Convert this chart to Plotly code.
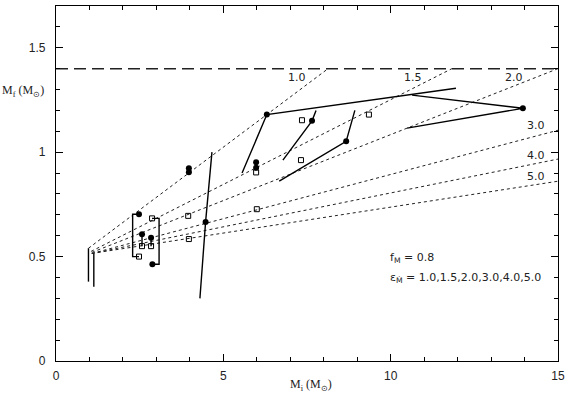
import plotly.graph_objects as go

# ---- data ----
# filled circles
fc_x = [2.48, 2.57, 2.84, 2.88, 3.97, 3.97, 4.47, 5.98, 5.98, 6.30, 7.65, 8.67, 13.95]
fc_y = [0.703, 0.607, 0.590, 0.463, 0.923, 0.904, 0.666, 0.952, 0.925, 1.180, 1.150, 1.052, 1.210]
# open squares
sq_x = [2.48, 2.57, 2.84, 2.87, 3.95, 3.97, 5.98, 6.00, 7.32, 7.35, 9.35]
sq_y = [0.500, 0.550, 0.550, 0.683, 0.695, 0.584, 0.903, 0.727, 0.962, 1.153, 1.180]

# solid tracks (None separates segments)
trk_x = [2.48, 2.29, 2.29, 2.48, None,
         2.87, 3.08, 3.08, 2.88, None,
         2.57, 2.57, None,
         2.84, 2.84, None,
         4.30, 4.47, 4.66, None,
         5.56, 6.30, 11.95, None,
         6.78, 7.65, 7.77, None,
         6.67, 8.67, 8.93, None,
         10.64, 13.95, 10.49, None,
         0.97, 0.97, None,
         1.13, 1.13]
trk_y = [0.703, 0.703, 0.500, 0.500, None,
         0.683, 0.683, 0.463, 0.463, None,
         0.607, 0.550, None,
         0.590, 0.550, None,
         0.300, 0.666, 1.000, None,
         0.900, 1.180, 1.306, None,
         0.962, 1.150, 1.200, None,
         0.861, 1.052, 1.200, None,
         1.273, 1.210, 1.115, None,
         0.540, 0.380, None,
         0.515, 0.355]

# dotted model lines, epsilon = 1.0 ... 5.0
eps_labels = ["1.0", "1.5", "2.0", "3.0", "4.0", "5.0"]
d_x0 = [0.97, 1.05, 1.07, 1.07, 1.07, 1.07]
d_y0 = [0.540, 0.525, 0.520, 0.515, 0.515, 0.515]
d_x1 = [8.13, 11.83, 15.0, 15.0, 15.0, 15.0]
d_y1 = [1.400, 1.400, 1.400, 1.105, 0.967, 0.861]
lab_x = [7.20, 10.67, 13.68, 14.34, 14.34, 14.34]
lab_y = [1.359, 1.359, 1.359, 1.129, 0.986, 0.885]

chandra_x = [0, 15]
chandra_y = [1.4, 1.4]

x_ticks = [0, 5, 10, 15]
y_ticks = [0, 0.5, 1, 1.5]
y_ticklabels = ["0", "0.5", "1", "1.5"]

fig = go.Figure()

# Chandrasekhar limit
fig.add_trace(go.Scatter(x=chandra_x, y=chandra_y, mode="lines",
                         line=dict(color="#222", width=1.5, dash="12px,6px"),
                         hoverinfo="skip", showlegend=False))

for i in range(len(eps_labels)):
    fig.add_trace(go.Scatter(x=[d_x0[i], d_x1[i]], y=[d_y0[i], d_y1[i]], mode="lines",
                             line=dict(color="#222", width=1, dash="dot"),
                             showlegend=False))

fig.add_trace(go.Scatter(x=trk_x, y=trk_y, mode="lines",
                         line=dict(color="black", width=1.4),
                         connectgaps=False, showlegend=False))

fig.add_trace(go.Scatter(x=sq_x, y=sq_y, mode="markers",
                         marker=dict(symbol="square-open", size=5, color="black",
                                     line=dict(width=1, color="black")),
                         showlegend=False))
fig.add_trace(go.Scatter(x=fc_x, y=fc_y, mode="markers",
                         marker=dict(symbol="circle", size=6, color="black"),
                         showlegend=False))

for t, x, y in zip(eps_labels, lab_x, lab_y):
    fig.add_annotation(x=x, y=y, text=t, showarrow=False,
                       font=dict(family="DejaVu Sans", size=11, color="#222"))

fig.add_annotation(x=(388 - 56) / 502, y=(361 - 258) / 355, xref="paper", yref="paper",
                   xanchor="left", yanchor="middle", showarrow=False,
                   text="f<sub>M</sub> = 0.8",
                   font=dict(family="DejaVu Sans", size=11, color="#222"))
fig.add_annotation(x=(388 - 56) / 502, y=(361 - 278) / 355, xref="paper", yref="paper",
                   xanchor="left", yanchor="middle", showarrow=False,
                   text="ε<sub>Ṁ</sub> = 1.0,1.5,2.0,3.0,4.0,5.0",
                   font=dict(family="DejaVu Sans", size=11, color="#222"))

# axis titles
fig.add_annotation(x=(46 - 56) / 502, y=(361 - 91) / 355, xref="paper", yref="paper",
                   xanchor="right", yanchor="middle", showarrow=False,
                   text="M<sub>f</sub> (M<sub>⊙</sub>)",
                   font=dict(family="Liberation Serif", size=12, color="#222"))
fig.add_annotation(x=(311 - 56) / 502, y=-(385 - 361) / 355, xref="paper", yref="paper",
                   xanchor="center", yanchor="middle", showarrow=False,
                   text="M<sub>i</sub> (M<sub>⊙</sub>)",
                   font=dict(family="Liberation Serif", size=12, color="#222"))

axis_common = dict(showline=True, linecolor="black", linewidth=1.2, mirror="allticks",
                   ticks="inside", ticklen=7, tickcolor="black", tickwidth=1,
                   showgrid=False, zeroline=False,
                   tickfont=dict(family="Liberation Sans", size=12, color="#222"))

fig.update_xaxes(range=[0, 15], tickvals=x_ticks, ticktext=[str(v) for v in x_ticks],
                 ticklabelstandoff=3,
                 minor=dict(dtick=1, ticks="inside", ticklen=4, tickcolor="black", showgrid=False),
                 **axis_common)
fig.update_yaxes(range=[0, 1.7], tickvals=y_ticks, ticktext=y_ticklabels,
                 ticklabelstandoff=7,
                 minor=dict(dtick=0.1, ticks="inside", ticklen=4, tickcolor="black", showgrid=False),
                 **axis_common)

fig.update_layout(width=570, height=396, margin=dict(l=56, r=12, t=6, b=35),
                  plot_bgcolor="white", paper_bgcolor="white", showlegend=False)

fig.write_html("out.html", config={"displayModeBar": False},
               post_script="document.body.style.margin='0';document.body.style.overflow='hidden';")
